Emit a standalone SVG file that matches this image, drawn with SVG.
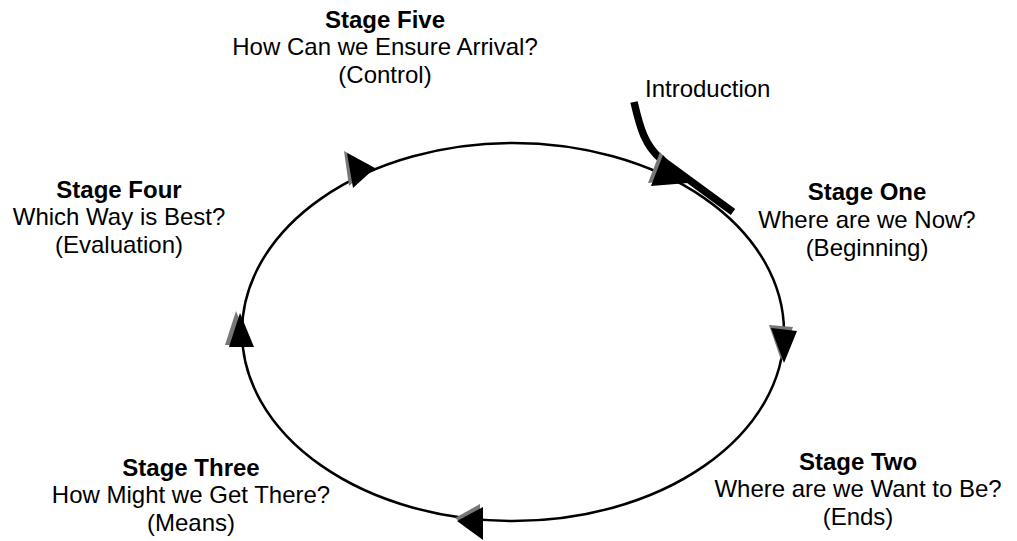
<svg xmlns="http://www.w3.org/2000/svg" width="1017" height="541" viewBox="0 0 1017 541">
  <style>
    text { font-family: "Liberation Sans", Arial, sans-serif; font-size: 24px; fill: #000; }
    .title { font-weight: bold; }
    .cycle { fill: none; stroke: #000; stroke-width: 2.5; }
    .intro { fill: none; stroke: #000; stroke-width: 7.5; stroke-linecap: butt; }
    .head { fill: #000; }
    .shade { fill: #777; }
  </style>
  <rect width="1017" height="541" fill="#fff"/>

  <g id="connectors">
    <ellipse class="cycle" cx="513" cy="332" rx="271" ry="189"/>
    <path class="intro" d="M634,102 C640,128 645,146 662,160 L733,212"/>
    <!-- clockwise arrowheads: grey shadow copy behind, black head on top -->
    <g id="arrow-top-right">
      <polygon class="shade" points="660,152 648,183 683,180"/>
      <polygon class="head" points="663,155 651,186 688,183"/>
    </g>
    <g id="arrow-right">
      <polygon class="shade" points="769,325 793,327 781,360"/>
      <polygon class="head" points="771,328 797,331 784,363"/>
    </g>
    <g id="arrow-bottom">
      <polygon class="shade" points="455,518 480,504 480,537"/>
      <polygon class="head" points="457,521 483,507 483,540"/>
    </g>
    <g id="arrow-left">
      <polygon class="shade" points="236,311 225,345 250,345"/>
      <polygon class="head" points="240,313 229,347 254,347"/>
    </g>
    <g id="arrow-top-left">
      <polygon class="shade" points="344,151 349,186 371,166"/>
      <polygon class="head" points="347,153 353,188 375,168"/>
    </g>
  </g>

  <g id="stage-five" text-anchor="middle">
    <text class="title" x="385" y="28">Stage Five</text>
    <text x="385" y="55">How Can we Ensure Arrival?</text>
    <text x="385" y="83">(Control)</text>
  </g>
  <g id="introduction">
    <text x="645" y="97">Introduction</text>
  </g>
  <g id="stage-one" text-anchor="middle">
    <text class="title" x="867" y="200">Stage One</text>
    <text x="867" y="228">Where are we Now?</text>
    <text x="867" y="256">(Beginning)</text>
  </g>
  <g id="stage-two" text-anchor="middle">
    <text class="title" x="858" y="470">Stage Two</text>
    <text x="858" y="497">Where are we Want to Be?</text>
    <text x="858" y="525">(Ends)</text>
  </g>
  <g id="stage-three" text-anchor="middle">
    <text class="title" x="191" y="476">Stage Three</text>
    <text x="191" y="503">How Might we Get There?</text>
    <text x="191" y="531">(Means)</text>
  </g>
  <g id="stage-four" text-anchor="middle">
    <text class="title" x="119" y="198">Stage Four</text>
    <text x="119" y="225">Which Way is Best?</text>
    <text x="119" y="253">(Evaluation)</text>
  </g>
</svg>
